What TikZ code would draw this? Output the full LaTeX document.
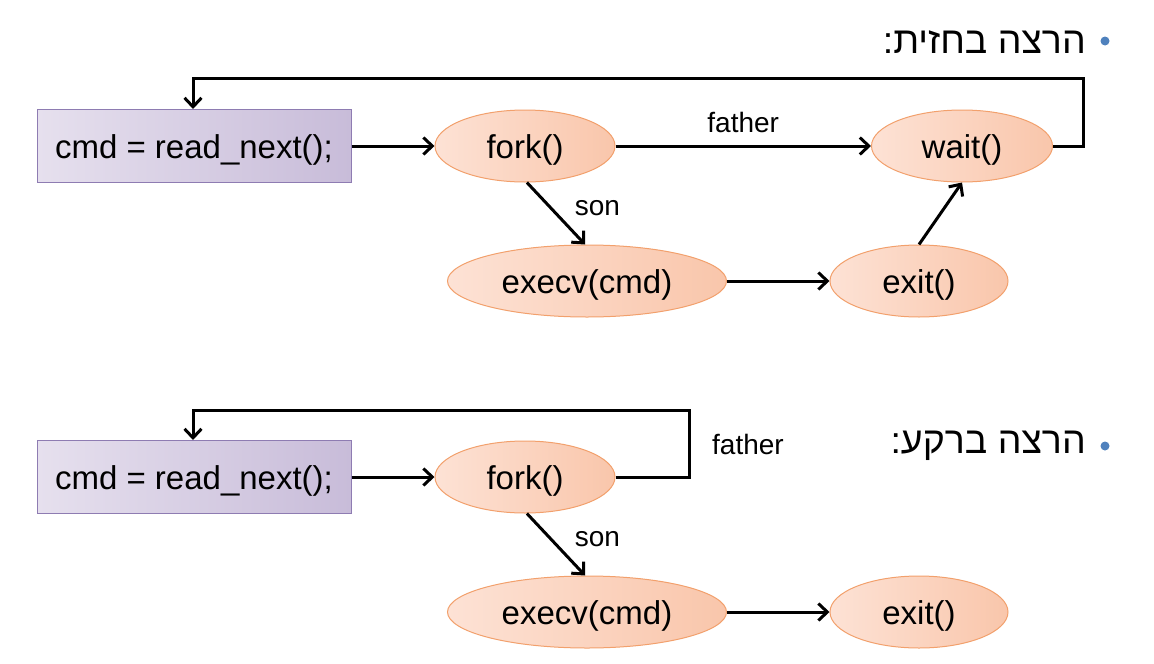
\documentclass[tikz,border=0pt]{standalone}
\usepackage{fontspec}
\setmainfont{Liberation Sans}
\newfontfamily\hebfont[Script=Hebrew]{Liberation Sans}
\TeXXeTstate=1
\usetikzlibrary{shapes.geometric,arrows.meta}
\definecolor{boxL}{HTML}{E6E0EE}
\definecolor{boxR}{HTML}{C8BCD9}
\definecolor{boxB}{HTML}{8E7CB2}
\definecolor{ellL}{HTML}{FDE2D5}
\definecolor{ellR}{HTML}{F9C6AB}
\definecolor{ellB}{HTML}{F2A06C}
\definecolor{bulletC}{HTML}{4F81BD}
\tikzset{
  cmdbox/.style={draw=boxB,line width=1pt,left color=boxL,right color=boxR,
    minimum width=314pt,minimum height=73pt,inner sep=0pt,
    text height=30pt,text depth=6pt,
    font=\fontsize{33}{40}\selectfont},
  callell/.style={ellipse,draw=ellB,line width=1pt,left color=ellL,right color=ellR,
    minimum height=72pt,inner sep=0pt,text height=30pt,text depth=6pt,
    font=\fontsize{33}{40}\selectfont},
  conn/.style={line width=3pt,-{Straight Barb[length=9pt,width=17pt,line width=3pt]}},
  lbl/.style={font=\fontsize{28}{34}\selectfont,inner sep=0pt},
  heb/.style={font=\fontsize{37.5}{44}\selectfont\hebfont,inner sep=0pt,anchor=east},
}
\begin{document}
\begin{tikzpicture}[x=1pt,y=-1pt]
\useasboundingbox (0,0) rectangle (1154,664);
% ---------- top ----------
\node[heb] (h1) at (1086,42) {\beginR הרצה בחזית:\endR};
\fill[bulletC] (1105,41) circle (4.5pt);
\node[cmdbox] (box1) at (194,146) {cmd = read\_next();};
\node[callell,minimum width=180pt] (fork1) at (525,146) {fork()};
\node[callell,minimum width=181pt] (wait1) at (962,146) {wait()};
\node[callell,minimum width=279pt] (exec1) at (587,281) {execv(cmd)};
\node[callell,minimum width=178pt] (exit1) at (919,281) {exit()};
\coordinate (c1a) at (1083,146);
\coordinate (c1b) at (1083,78);
\coordinate (c1c) at (193,78);
\draw[conn] (box1.east) -- (fork1.west);
\draw[conn] (fork1.east) -- node[lbl,above=12pt] (fa1) {father} (wait1.west);
\draw[conn] (fork1.-87) -- node[lbl,right=22pt,pos=0.42] (son1) {son} (exec1.93);
\draw[conn] (exec1.east) -- (exit1.west);
\draw[conn] (exit1.90) -- (wait1.-90);
\draw[conn] (wait1.east) -- (c1a) -- (c1b) -- (c1c) -- (box1.north -| c1c);
% ---------- bottom ----------
\node[heb] (h2) at (1086,446) {\beginR הרצה ברקע:\endR};
\fill[bulletC] (1105,446) circle (4.5pt);
\node[cmdbox] (box2) at (194,477) {cmd = read\_next();};
\node[callell,minimum width=180pt] (fork2) at (525,477) {fork()};
\node[callell,minimum width=279pt] (exec2) at (587,612) {execv(cmd)};
\node[callell,minimum width=178pt] (exit2) at (919,612) {exit()};
\coordinate (c2a) at (689,477);
\coordinate (c2b) at (689,410);
\coordinate (c2c) at (193,410);
\node[lbl] (fa2) at (748,444) {father};
\draw[conn] (box2.east) -- (fork2.west);
\draw[conn] (fork2.-87) -- node[lbl,right=22pt,pos=0.42] (son2) {son} (exec2.93);
\draw[conn] (exec2.east) -- (exit2.west);
\draw[conn] (fork2.east) -- (c2a) -- (c2b) -- (c2c) -- (box2.north -| c2c);
\end{tikzpicture}
\end{document}
